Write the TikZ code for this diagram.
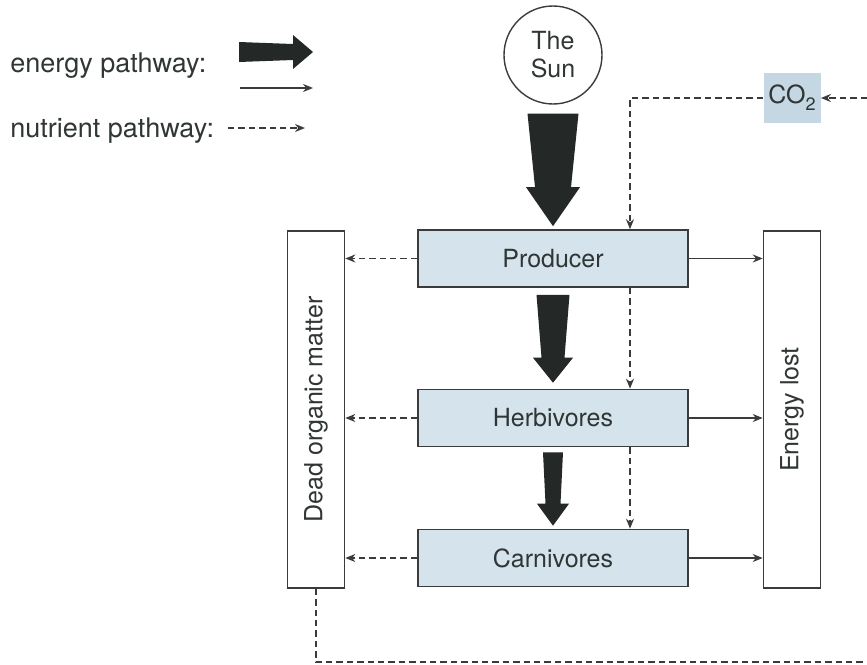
\documentclass[tikz,border=0pt]{standalone}
\usepackage{fontspec}
\setmainfont{TeX Gyre Heros}
\usepackage{tikz}
\usetikzlibrary{
  calc,        % Coordinate math for the fat arrows
  arrows.meta  % Stealth tips
}

\definecolor{boxblue}{RGB}{213,228,236}
\definecolor{co2blue}{RGB}{197,215,226}
\definecolor{linegray}{RGB}{58,60,60}
\definecolor{fatgray}{RGB}{36,40,38}
\definecolor{textgray}{RGB}{48,53,53}

% Fat energy arrow: start, tip, half width at start, half width at head, head half width, head length
\newcommand{\fatarrow}[6]{%
  \coordinate (fa-h) at ($(#2)!#6!(#1)$);
  \fill[fatgray] ($(#1)!#3!90:(#2)$) -- ($(fa-h)!#4!90:(#2)$) -- ($(fa-h)!#5!90:(#2)$) -- (#2)
    -- ($(fa-h)!#5!-90:(#2)$) -- ($(fa-h)!#4!-90:(#2)$) -- ($(#1)!#3!-90:(#2)$) -- cycle;
}

\tikzset{
  trophic/.style={draw=linegray, line width=0.8pt, fill=boxblue, minimum width=135pt,
    minimum height=28.5pt, text=textgray, font=\fontsize{12.5}{15}\selectfont},
  sidebox/.style={draw=linegray, line width=0.8pt, fill=white, rotate=90, minimum width=178.5pt,
    minimum height=28.5pt, text=textgray, font=\fontsize{12.5}{15}\selectfont},
  enline/.style={draw=linegray, line width=0.8pt, -{Stealth[length=5pt,width=4pt]}},
  nutline/.style={draw=linegray, line width=0.8pt, dash pattern=on 3.2pt off 2pt,
    -{Stealth[length=5pt,width=4pt]}},
  legtext/.style={anchor=base west, text=textgray, font=\fontsize{13.5}{16}\selectfont, inner sep=0pt}
}

\begin{document}
\begin{tikzpicture}[x=0.5pt, y=-0.5pt]
        \useasboundingbox (0,0) rectangle (867,664);

        % Legend
        \node[legtext] (lgen) at (10,72) {energy pathway:};
        \node[legtext] (lgnut) at (10,137) {nutrient pathway:};
        \coordinate (lf1) at (239,52);
        \coordinate (lf2) at (313,52);
        \fatarrow{lf1}{lf2}{5pt}{4pt}{8.5pt}{10pt}
        \coordinate (lt1) at (240,88);
        \coordinate (lt2) at (313,88);
        \draw[enline] (lt1) -- (lt2);
        \coordinate (ld1) at (228,128);
        \coordinate (ld2) at (305,128);
        \draw[nutline] (ld1) -- (ld2);

        % Sun and CO2
        \node[draw=linegray, line width=0.7pt, circle, minimum size=49pt, inner sep=0pt, align=center,
          text=textgray, font=\fontsize{12.5}{14}\selectfont] (sun) at (553,55) {The\\Sun};
        \node[fill=co2blue, minimum width=28.5pt, minimum height=25pt, inner sep=0pt, text=textgray,
          font=\fontsize{12.5}{15}\selectfont] (co2) at (792,98)
          {CO\raisebox{-3.5pt}{\fontsize{9}{9}\selectfont 2}};

        % Food chain
        \node[trophic] (prod) at (553,258.5) {Producer};
        \node[trophic] (herb) at (553,418) {Herbivores};
        \node[trophic] (carn) at (553,558) {Carnivores};

        % Side boxes
        \node[sidebox] (dom) at (316,409.5) {Dead organic matter};
        \node[sidebox] (lost) at (792,409.5) {Energy lost};

        % Energy pathways
        \coordinate (sa1) at ($(sun.south)+(0,9)$);
        \coordinate (sa2) at ($(prod.north)+(0,-3)$);
        \fatarrow{sa1}{sa2}{12.75pt}{9pt}{13.5pt}{19.5pt}
        \coordinate (pa1) at ($(prod.south)+(0,7)$);
        \coordinate (pa2) at ($(herb.north)+(0,-6)$);
        \fatarrow{pa1}{pa2}{8.25pt}{5.75pt}{10pt}{12.5pt}
        \coordinate (ha1) at ($(herb.south)+(0,5)$);
        \coordinate (ha2) at ($(carn.north)+(0,-3)$);
        \fatarrow{ha1}{ha2}{5pt}{3.75pt}{8pt}{11pt}

        \foreach \n in {prod, herb, carn} {
          \draw[enline] (\n.east) -- (\n.east -| lost.north);
          \draw[nutline] (\n.west) -- (\n.west -| dom.south);
        }

        % Nutrient pathways
        \coordinate (nut) at (630,0);
        \coordinate (edgeR) at (867,98);
        \coordinate (edgeB) at (867,662);
        \draw[nutline] (edgeR) -- (co2.east);
        \draw[nutline] (co2.west) -| (prod.north -| nut);
        \draw[nutline] (prod.south -| nut) -- (herb.north -| nut);
        \draw[nutline] (herb.south -| nut) -- (carn.north -| nut);
        \draw[nutline, -] (dom.west) |- (edgeB);
    \end{tikzpicture}
\end{document}
